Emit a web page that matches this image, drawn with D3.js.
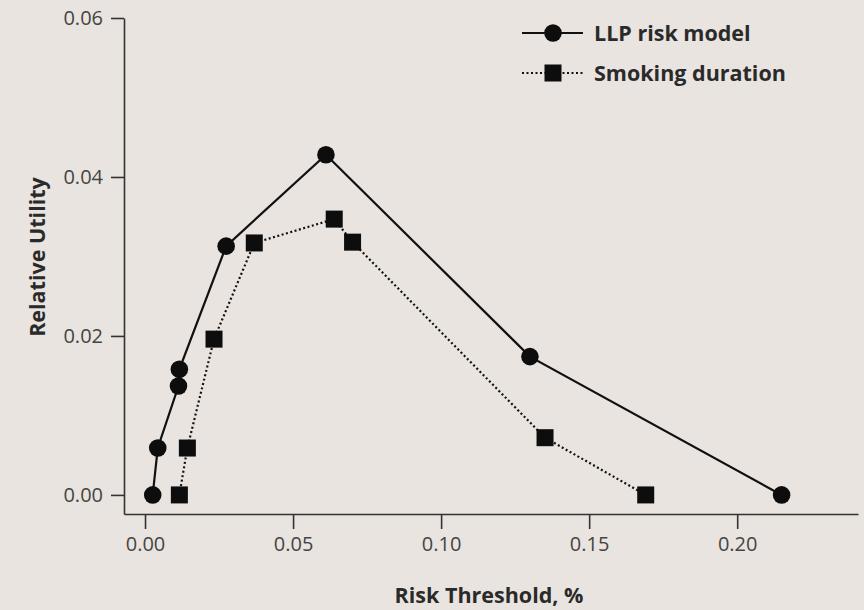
<!DOCTYPE html>
<html>
<head>
<meta charset="utf-8">
<script src="https://cdn.jsdelivr.net/npm/d3@7"></script>
<style>
body { margin: 0; background: #e9e4df; }
svg { display: block; }
.axis text { font-family: "Open Sans", sans-serif; font-size: 20px; fill: #444; }
.axis path, .axis line { stroke: #333; stroke-width: 1.6; }
.title { font-family: "Open Sans", sans-serif; font-size: 21.5px; font-weight: bold; fill: #2a2a2a; }
</style>
</head>
<body>
<div id="canvas"></div>
<script>
// ----------------------------------------------------------
// DATA -----------------------------------------------------
// ----------------------------------------------------------

var series_names = ["LLP risk model", "Smoking duration"];

var llp_x = [0.0026, 0.0043, 0.0113, 0.0116, 0.0274, 0.0611, 0.130, 0.215];
var llp_y = [0.000, 0.0059, 0.0137, 0.0158, 0.0313, 0.0428, 0.0174, 0.000];

var smoking_x = [0.0116, 0.0143, 0.0233, 0.0369, 0.0639, 0.0701, 0.1351, 0.1691];
var smoking_y = [0.000, 0.0059, 0.0196, 0.0317, 0.0347, 0.0318, 0.0072, 0.000];

var x_ticks = [0, 0.05, 0.10, 0.15, 0.20];
var y_ticks = [0, 0.02, 0.04, 0.06];


// ----------------------------------------------------------
// STRUCTURE ------------------------------------------------
// ----------------------------------------------------------

var container = d3.select("#canvas").append("svg")
.attr("width", 864)
.attr("height", 610)
.style("background-color", "#e9e4df");

// scales - axis lines run a little past zero on both sides
var xScale = d3.scaleLinear()
.domain([-0.0071, 0.2408])
.range([124, 858]);

var yScale = d3.scaleLinear()
.domain([-0.0024, 0.06])
.range([514, 18]);


// ----------------------------------------------------------
// AXES -----------------------------------------------------
// ----------------------------------------------------------

var x_axis = container.append("g")
.attr("class", "axis")
.attr("transform", "translate(0, 514)")
.call(d3.axisBottom(xScale)
  .tickValues(x_ticks)
  .tickFormat(d3.format(".2f"))
  .tickSizeInner(15)
  .tickSizeOuter(0)
  .tickPadding(8));

var y_axis = container.append("g")
.attr("class", "axis")
.attr("transform", "translate(124, 0)")
.call(d3.axisLeft(yScale)
  .tickValues(y_ticks)
  .tickFormat(d3.format(".2f"))
  .tickSizeInner(13)
  .tickSizeOuter(0)
  .tickPadding(8));

// axis titles
container.append("text")
.attr("class", "title")
.attr("x", 489)
.attr("y", 603)
.attr("text-anchor", "middle")
.text("Risk Threshold, %");

container.append("text")
.attr("class", "title")
.attr("transform", "translate(45, 257) rotate(-90)")
.attr("text-anchor", "middle")
.text("Relative Utility");


// ----------------------------------------------------------
// GFX ------------------------------------------------------
// ----------------------------------------------------------

var llp_data = llp_x.map(function (d, i) { return [d, llp_y[i]]; });
var smoking_data = smoking_x.map(function (d, i) { return [d, smoking_y[i]]; });

var line = d3.line()
.x(function (d) { return xScale(d[0]); })
.y(function (d) { return yScale(d[1]); });

var gfx_group = container.append("g").attr("class", "gfx_group");

// smoking duration - dotted line, squares
gfx_group.append("path")
.datum(smoking_data)
.attr("d", line)
.attr("fill", "none")
.attr("stroke", "#111")
.attr("stroke-width", 2.2)
.attr("stroke-dasharray", "2,2.5");

gfx_group.selectAll(".square")
.data(smoking_data)
.enter()
.append("rect")
.attr("class", "square")
.attr("x", function (d) { return xScale(d[0]) - 8.5; })
.attr("y", function (d) { return yScale(d[1]) - 8.5; })
.attr("width", 17)
.attr("height", 17)
.style("fill", "#0d0d0d");

// LLP risk model - solid line, circles
gfx_group.append("path")
.datum(llp_data)
.attr("d", line)
.attr("fill", "none")
.attr("stroke", "#111")
.attr("stroke-width", 2.2);

gfx_group.selectAll(".dot")
.data(llp_data)
.enter()
.append("circle")
.attr("class", "dot")
.attr("cx", function (d) { return xScale(d[0]); })
.attr("cy", function (d) { return yScale(d[1]); })
.attr("r", 8.8)
.style("fill", "#0d0d0d");


// ----------------------------------------------------------
// LEGEND ---------------------------------------------------
// ----------------------------------------------------------

var legend = container.append("g").attr("class", "legend");

// row 1
legend.append("line")
.attr("x1", 522).attr("x2", 583)
.attr("y1", 33).attr("y2", 33)
.attr("stroke", "#111")
.attr("stroke-width", 2.2);

legend.append("circle")
.attr("cx", 553).attr("cy", 33)
.attr("r", 8.8)
.style("fill", "#0d0d0d");

// row 2
legend.append("line")
.attr("x1", 522).attr("x2", 583)
.attr("y1", 73).attr("y2", 73)
.attr("stroke", "#111")
.attr("stroke-width", 2.2)
.attr("stroke-dasharray", "2,2.5");

legend.append("rect")
.attr("x", 544.5).attr("y", 64.5)
.attr("width", 17).attr("height", 17)
.style("fill", "#0d0d0d");

legend.selectAll(".legend_text")
.data(series_names)
.enter()
.append("text")
.attr("class", "title")
.attr("x", 594)
.attr("y", function (d, i) { return 41 + i * 40; })
.text(function (d) { return d; });
</script>
</body>
</html>
